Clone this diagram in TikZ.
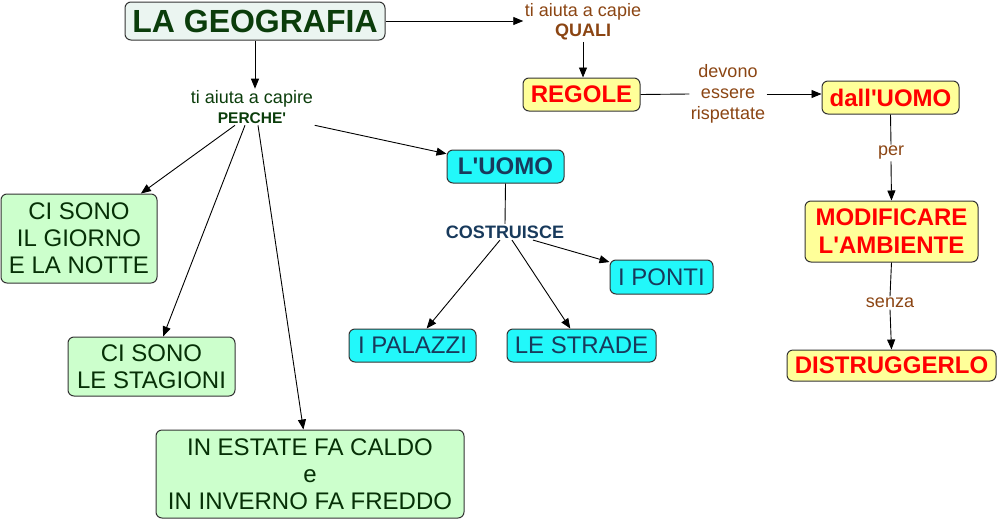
\documentclass[tikz,border=0pt]{standalone}
\usepackage{fontspec}
\setmainfont{Liberation Sans}[Ligatures=TeXOff]
\usepackage{xcolor}
\usetikzlibrary{arrows.meta}
\definecolor{titletext}{HTML}{0B3D0B}
\definecolor{titlefill}{HTML}{EBF5F1}
\definecolor{greenfill}{HTML}{CCFFCC}
\definecolor{greentext}{HTML}{063006}
\definecolor{cyanfill}{HTML}{22F8FA}
\definecolor{navytext}{HTML}{183A5C}
\definecolor{yellowfill}{HTML}{FFFF99}
\definecolor{brownlink}{HTML}{8B4513}

\begin{document}
\begin{tikzpicture}[
				x=1pt, y=-1pt,
				box/.style={rectangle, draw=black!80, line width=1pt, rounded corners=6pt,
					align=center, inner sep=2pt},
				mainbox/.style={box, fill=titlefill, text=titletext,
					font=\fontsize{32}{35}\selectfont\bfseries},
				greenbox/.style={box, fill=greenfill, text=greentext, font=\fontsize{24}{27}\selectfont},
				cyanbox/.style={box, fill=cyanfill, text=navytext, font=\fontsize{24}{27}\selectfont},
				yellowbox/.style={box, fill=yellowfill, text=red, font=\fontsize{24}{28}\selectfont\bfseries},
				link/.style={align=center, inner sep=1.5pt, font=\fontsize{18}{20}\selectfont},
				arrow/.style={-{Triangle[length=10pt,width=8pt]}, line width=0.9pt},
				plain/.style={line width=0.9pt}
				]
				\useasboundingbox (0,0) rectangle (999,520);
				\node[mainbox, minimum width=260, minimum height=38] (geo) at (255,21) {LA GEOGRAFIA};
				\node[link, text=brownlink] (quali) at (583,22)
				{ti aiuta a capie\\\textbf{QUALI}};
				\node[link, text=titletext] (perche) at (252,107)
				{ti aiuta a capire\\{\fontsize{15.5}{18}\selectfont\bfseries PERCHE'}};
				\node[yellowbox, minimum width=117, minimum height=33] (regole) at (581.5,94.5) {REGOLE};
				\node[link, text=brownlink, font=\fontsize{18}{21}\selectfont] (devono) at (728,94)
				{devono\\essere\\rispettate};
				\node[yellowbox, minimum width=137, minimum height=33] (uomo) at (890.5,97.5) {dall'UOMO};
				\node[link, text=brownlink] (per) at (891,153) {per};
				\node[yellowbox, minimum width=173, minimum height=61] (modif) at (891.5,231.5)
				{MODIFICARE\\L'AMBIENTE};
				\node[link, text=brownlink] (senza) at (890,303) {senza};
				\node[yellowbox, minimum width=209, minimum height=31] (distr) at (891.5,365.5) {DISTRUGGERLO};
				\node[greenbox, minimum width=156, minimum height=89] (giorno) at (79,238.5)
				{CI SONO\\IL GIORNO\\E LA NOTTE};
				\node[greenbox, minimum width=167, minimum height=59] (stagioni) at (151.5,366.5)
				{CI SONO\\LE STAGIONI};
				\node[greenbox, minimum width=308, minimum height=88] (estate) at (310,474)
				{IN ESTATE FA CALDO\\e\\IN INVERNO FA FREDDO};
				\node[cyanbox, font=\fontsize{24}{27}\selectfont\bfseries,
					minimum width=117, minimum height=33] (luomo) at (505.5,166.5) {L'UOMO};
				\node[link, text=navytext, font=\fontsize{18}{20}\selectfont\bfseries] (cost) at (505,232)
				{COSTRUISCE};
				\node[cyanbox, minimum width=103, minimum height=34] (ponti) at (661.5,277) {I PONTI};
				\node[cyanbox, minimum width=127, minimum height=33] (palazzi) at (412.5,345.5) {I PALAZZI};
				\node[cyanbox, minimum width=149, minimum height=33] (strade) at (581.5,345.5) {LE STRADE};
				\draw[arrow] (geo.east) -- (geo.east -| quali.west);
				\draw[arrow] (quali.south) -- (quali.south |- regole.north);
				\draw[plain] (regole.east) -- (devono.west);
				\draw[arrow] (devono.east) -- (devono.east -| uomo.west);
				\draw[plain] (uomo.south) -- (per.north);
				\draw[arrow] (per.south) -- (modif.north);
				\draw[plain] (modif.south) -- (senza.north);
				\draw[arrow] (senza.south) -- (distr.north);
				\draw[arrow] (geo.south) -- (geo.south |- perche.north);
				\draw[arrow] ([xshift=-17pt]perche.south) -- (giorno);
				\draw[arrow] ([xshift=-7pt]perche.south) -- (stagioni);
				\draw[arrow] ([xshift=6pt]perche.south) -- (estate);
				\draw[arrow] (perche.south east) -- (luomo);
				\draw[plain] (luomo.south) -- (cost.north);
				\draw[arrow] ([xshift=-5pt]cost.south) -- (palazzi);
				\draw[arrow] ([xshift=7pt]cost.south) -- (strade);
				\draw[arrow] ([xshift=28pt]cost.south) -- (ponti);
			\end{tikzpicture}
\end{document}
